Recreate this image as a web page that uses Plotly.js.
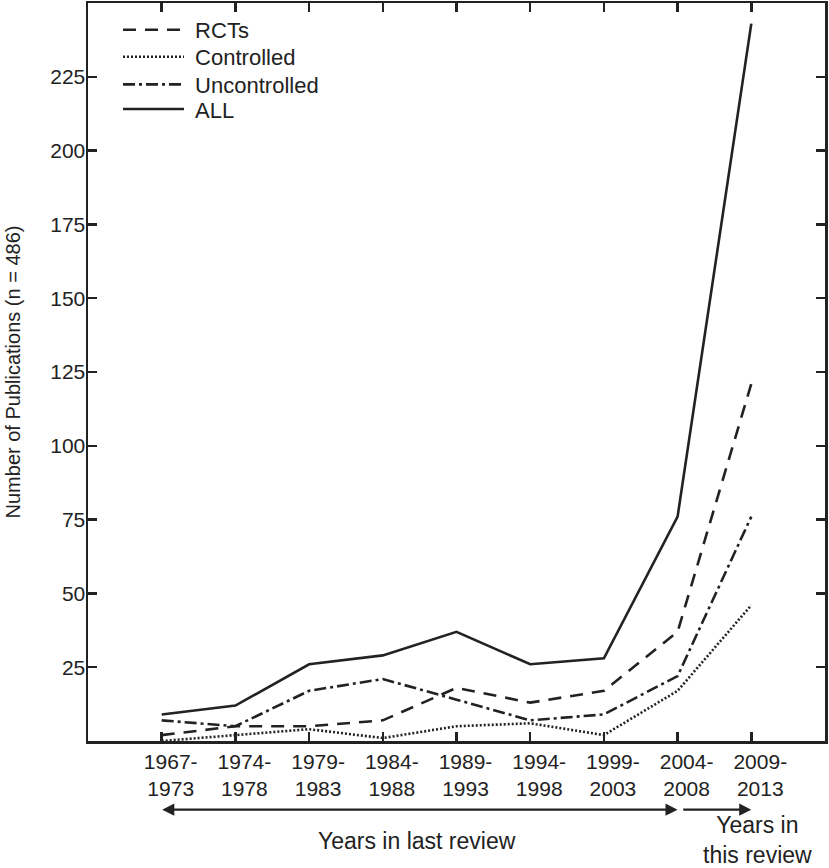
<!DOCTYPE html>
<html>
<head>
<meta charset="utf-8">
<script src="https://cdn.plot.ly/plotly-3.0.1.min.js"></script>
<style>html,body{margin:0;padding:0;background:#fff;}#chart{width:829px;height:868px;}</style>
</head>
<body>
<div id="chart"></div>
<script>
var categories = ['1967-1973','1974-1978','1979-1983','1984-1988','1989-1993','1994-1998','1999-2003','2004-2008','2009-2013'];
var tickLabels = ['1967-<br>1973','1974-<br>1978','1979-<br>1983','1984-<br>1988','1989-<br>1993','1994-<br>1998','1999-<br>2003','2004-<br>2008','2009-<br>2013'];
var seriesNames  = ['RCTs', 'Controlled', 'Uncontrolled', 'ALL'];
var rcts         = [2, 5, 5, 7, 18, 13, 17, 37, 121];
var controlled   = [0, 2, 4, 1, 5, 6, 2, 17, 46];
var uncontrolled = [7, 5, 17, 21, 14, 7, 9, 22, 76];
var allPubs      = [9, 12, 26, 29, 37, 26, 28, 76, 243];
var yTicks = [25, 50, 75, 100, 125, 150, 175, 200, 225];

var ink = '#222222';
var FONT = 'Liberation Sans, Arial, Helvetica, sans-serif';
var xIdx = categories.map(function(c, i){ return i; });
var pad = '\u00a0';

function tr(name, y, dash, legendId){
  return {x: xIdx, y: y, name: pad + name, type: 'scatter', mode: 'lines', legend: legendId,
          line: {color: ink, width: 2.6, dash: dash}};
}
var data = [
  tr(seriesNames[0], rcts, '13px,9px', 'legend'),
  tr(seriesNames[1], controlled, '2px,2px', 'legend2'),
  tr(seriesNames[2], uncontrolled, '12px,4px,3px,4px', 'legend3'),
  tr(seriesNames[3], allPubs, 'solid', 'legend4')
];

function leg(y){
  return {x: 0.0407, y: y, xanchor: 'left', yanchor: 'middle',
          bgcolor: 'rgba(0,0,0,0)', borderwidth: 0, itemwidth: 61,
          font: {family: FONT, size: 22, color: ink}};
}

var lastIdx = categories.indexOf('2004-2008');
var thisIdx = categories.indexOf('2009-2013');

var layout = {
  width: 829, height: 868,
  margin: {l: 88, r: 4, t: 3, b: 127},
  paper_bgcolor: '#fff', plot_bgcolor: '#fff',
  font: {family: FONT, color: ink, size: 21},
  showlegend: true,
  legend: leg(0.9634),
  legend2: leg(0.9268),
  legend3: leg(0.8895),
  legend4: leg(0.856),
  xaxis: {range: [-1, 9], tickmode: 'array', tickvals: xIdx, ticktext: tickLabels,
          showgrid: false, zeroline: false, showline: true, linecolor: ink, linewidth: 2.5,
          mirror: 'ticks', ticks: 'inside', ticklen: 9, tickwidth: 2.5, tickcolor: ink,
          tickfont: {family: FONT, size: 21, color: ink}, ticklabelshift: 9},
  yaxis: {range: [0, 250], tickmode: 'array', tickvals: yTicks,
          showgrid: false, zeroline: false, showline: true, linecolor: ink, linewidth: 2.5,
          mirror: 'ticks', ticks: 'inside', ticklen: 9, tickwidth: 2.5, tickcolor: ink,
          tickfont: {family: FONT, size: 21, color: ink}, ticklabelstandoff: -4,
          title: {text: 'Number of Publications (n = 486)', font: {family: FONT, size: 20, color: ink}, standoff: 25}},
  annotations: [
    {xref: 'x', yref: 'paper', x: lastIdx, y: -0.093, axref: 'x', ayref: 'pixel', ax: 0, ay: 0,
     text: ' ', font: {size: 1}, borderpad: 0, showarrow: true, arrowside: 'end+start',
     arrowhead: 2, arrowsize: 1.1, arrowwidth: 2.2, arrowcolor: ink, standoff: 0, startstandoff: 0},
    {xref: 'x', yref: 'paper', x: thisIdx, y: -0.093, axref: 'x', ayref: 'pixel', ax: lastIdx + 0.07, ay: 0,
     text: ' ', font: {size: 1}, borderpad: 0, showarrow: true, arrowside: 'end',
     arrowhead: 2, arrowsize: 1.1, arrowwidth: 2.2, arrowcolor: ink, standoff: 0, startstandoff: 0},
    {xref: 'x', yref: 'paper', x: 3.46, y: -0.135, text: 'Years in last review',
     showarrow: false, font: {family: FONT, size: 23, color: ink}, xanchor: 'center', yanchor: 'middle'},
    {xref: 'x', yref: 'paper', x: 8.08, y: -0.134, text: 'Years in<br>this review',
     showarrow: false, font: {family: FONT, size: 23, color: ink}, xanchor: 'center', yanchor: 'middle'}
  ]
};

Plotly.newPlot('chart', data, layout, {displayModeBar: false, staticPlot: true});
</script>
</body>
</html>
